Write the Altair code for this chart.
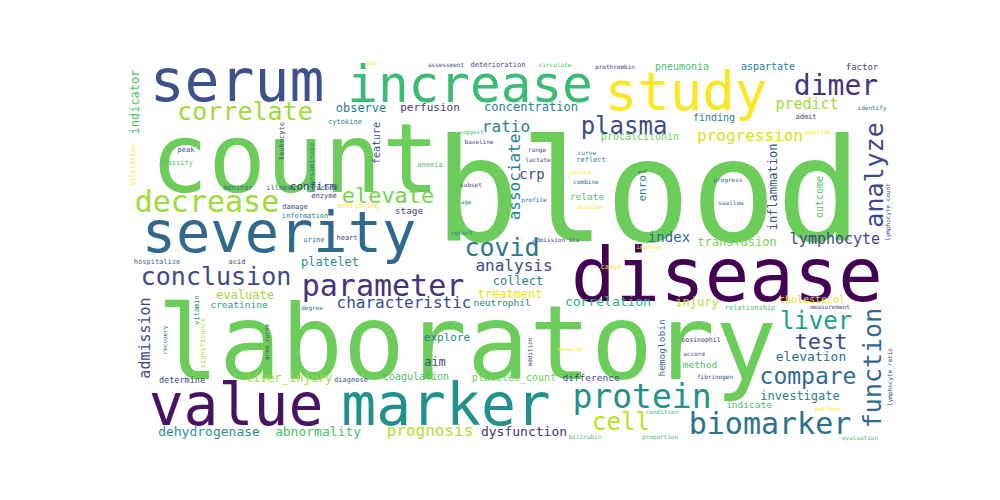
import pandas as pd
import altair as alt

# word cloud: word, centre position in page pixels, font size, rotation, colour
words = [
    "blood", "count", "laboratory", "disease", "severity", "value", "marker", "serum",
    "increase", "study", "protein", "biomarker", "decrease", "dimer", "parameter", "conclusion",
    "plasma", "correlate", "covid", "analyze", "function", "liver", "compare", "cell",
    "test", "elevate", "associate", "characteristic", "progression", "prognosis", "ratio", "analysis",
    "predict", "admission", "lymphocyte", "index", "crp", "correlation", "dysfunction", "elevation",
    "dehydrogenase", "abnormality", "observe", "platelet", "evaluate", "liver_injury", "investigate", "concentration",
    "inflammation", "indicator", "collect", "treatment", "transfusion", "injury", "aim", "perfusion",
    "enrol", "explore", "confirm", "finding", "outcome", "pneumonia", "aspartate", "factor",
    "coagulation", "cholesterol", "procalcitonin", "platelet_count", "difference", "hemoglobin", "method", "creatinine",
    "determine", "stage", "relate", "indicate", "neutrophil", "feature",
    "cytokine", "peak", "classify", "monitor", "illness", "record", "damage", "information",
    "enzyme", "monitoring", "urine", "heart", "leukocyte", "transaminase", "alteration", "anemia",
    "hospitalize", "acid", "degree", "vitamin", "recovery", "significance", "area_curve", "diagnose",
    "eosinophil", "accord", "fibrinogen", "develop", "addition", "cause", "bilirubin", "proportion",
    "condition", "relationship", "measurement", "perform", "evaluation", "identify", "lymphocyte_count", "lymphocyte_ratio",
    "progress", "swallow", "reflect", "curve", "range", "lactate", "subset", "profile",
    "age", "alanine", "combine", "course", "suggest", "baseline", "cohort", "peptide",
    "admit", "improve", "admission icu", "assessment", "deterioration", "circulate", "prothrombin", "san",
]
xs = [
    648, 295, 467, 727, 279, 236, 446, 237,
    470, 686, 642, 770, 207, 836, 383, 216,
    624, 245, 502, 875, 873, 816, 808, 621,
    821, 388, 515, 404, 750, 430, 506, 514,
    807, 145, 835, 669, 532, 608, 524, 811,
    209, 318, 361, 330, 245, 289, 800, 531,
    773, 135, 518, 510, 737, 697, 435, 430,
    643, 447, 313, 714, 820, 682, 768, 862,
    416, 812, 640, 514, 591, 662, 700, 239,
    182, 409, 587, 749, 502, 377,
    345, 186, 176, 238, 281, 325, 295, 305,
    324, 358, 314, 347, 282, 312, 133, 430,
    157, 237, 312, 197, 165, 203, 267, 351,
    701, 694, 715, 570, 530, 611, 585, 660,
    662, 750, 830, 828, 860, 872, 888, 890,
    728, 731, 591, 587, 537, 538, 471, 534,
    466, 590, 586, 580, 471, 479, 462, 818,
    806, 649, 556, 446, 498, 555, 615, 372,
]
ys = [
    198, 163, 348, 279, 235, 408, 408, 84,
    87, 94, 398, 425, 203, 87, 287, 277,
    127, 112, 248, 175, 368, 322, 377, 423,
    342, 196, 177, 303, 136, 431, 127, 266,
    104, 338, 239, 238, 175, 302, 432, 357,
    432, 432, 108, 262, 295, 378, 396, 107,
    187, 102, 281, 294, 242, 302, 362, 108,
    185, 338, 187, 118, 197, 67, 67, 67,
    377, 300, 137, 378, 378, 348, 365, 305,
    380, 211, 197, 405, 303, 143,
    122, 150, 163, 188, 188, 188, 207, 216,
    196, 206, 240, 238, 141, 168, 165, 165,
    262, 262, 308, 310, 340, 343, 342, 380,
    340, 354, 377, 349, 352, 267, 437, 437,
    412, 308, 307, 409, 438, 108, 212, 377,
    180, 203, 160, 153, 150, 160, 185, 200,
    202, 207, 182, 172, 132, 142, 233, 132,
    117, 247, 240, 65, 65, 65, 67, 63,
]
sizes = [
    142, 96, 103, 74, 57, 58, 58, 58,
    51, 54, 33, 30, 30, 28, 30, 25,
    24, 25, 25, 25, 25, 24, 23, 24,
    22, 22, 16, 16, 16, 16, 16, 16,
    15, 15, 15, 14, 14, 13, 13, 13,
    13, 13, 12, 12, 12, 12, 12, 12,
    12, 12, 12, 12, 12, 12, 12, 11,
    11, 11, 11, 10, 10, 10, 10, 9,
    10, 10, 10, 10, 9.5, 9.5, 9.5, 9.5,
    8.5, 9.5, 9.5, 9.5, 9.5, 10,
    7, 7, 7, 7, 7, 7, 7, 7,
    7, 7, 7, 7, 7, 7, 7, 7,
    7, 7, 6, 7, 6, 7, 6, 7,
    6.5, 6, 6, 6, 6, 7, 6, 6,
    6, 7, 6, 6, 6, 6, 6, 6,
    6, 6, 7, 6, 6, 6, 6, 6,
    6, 6, 6, 6, 6, 6, 6, 6,
    7, 6, 6, 6, 7, 6, 6, 6,
]
vertical = {
    "analyze", "function", "associate", "admission", "inflammation", "indicator", "enrol", "outcome",
    "hemoglobin", "feature", "leukocyte", "transaminase", "alteration", "vitamin", "recovery",
    "significance", "area_curve", "addition", "lymphocyte_count", "lymphocyte_ratio",
}
colors = [
    "#6ccd5a", "#6ccd5a", "#6ccd5a", "#440154", "#31688e", "#471365", "#21918c", "#3b528b",
    "#3bbb75", "#fde725", "#21918c", "#2c728e", "#a0da39", "#46337e", "#46337e", "#3e4989",
    "#3e4989", "#a0da39", "#2a788e", "#3e4989", "#31688e", "#1f9e89", "#31688e", "#bddf26",
    "#3e4989", "#7ad151", "#26828e", "#3e4989", "#d8e219", "#b5de2b", "#26828e", "#3e4989",
    "#a0da39", "#3e4989", "#3e4989", "#31688e", "#3e4989", "#29af7f", "#46337e", "#31688e",
    "#2a8f8c", "#4ac16d", "#26828e", "#2c8e8c", "#a0da39", "#a0da39", "#26828e", "#26828e",
    "#3e4989", "#4ac16d", "#26828e", "#e5e419", "#7ad151", "#b5de2b", "#3e4989", "#46337e",
    "#26828e", "#26828e", "#46337e", "#26828e", "#52c569", "#4ac16d", "#26828e", "#3e4989",
    "#4ac16d", "#d8e219", "#6ece58", "#6ece58", "#3e4989", "#31688e", "#4ac16d", "#2a9d8f",
    "#3e4989", "#3e4989", "#52c569", "#4ac16d", "#26828e", "#3b528b",
    "#26828e", "#3e4989", "#4ac16d", "#31688e", "#31688e", "#31688e", "#3e4989", "#26828e",
    "#46337e", "#fde725", "#31688e", "#3e4989", "#3e4989", "#26828e", "#fde725", "#4ac16d",
    "#31688e", "#3e4989", "#31688e", "#26828e", "#31688e", "#b5de2b", "#3e4989", "#3e4989",
    "#46337e", "#3e4989", "#3e4989", "#fde725", "#46337e", "#fde725", "#4ac16d", "#4ac16d",
    "#4ac16d", "#4ac16d", "#3e4989", "#fde725", "#4ac16d", "#31688e", "#3e4989", "#3e4989",
    "#31688e", "#31688e", "#26828e", "#26828e", "#3e4989", "#3e4989", "#3e4989", "#31688e",
    "#26828e", "#fde725", "#31688e", "#fde725", "#4ac16d", "#3e4989", "#26828e", "#fde725",
    "#3e4989", "#fde725", "#3e4989", "#3e4989", "#3e4989", "#4ac16d", "#46337e", "#fde725",
]

df = pd.DataFrame({
    "word": words, "x": xs, "y": ys, "size": sizes,
    "angle": [270 if w in vertical else 0 for w in words],
    "color": colors,
})

chart = (
    alt.Chart(df)
    .mark_text(font="DejaVu Sans Mono", align="center", baseline="middle")
    .encode(
        x=alt.X("x:Q", scale=alt.Scale(domain=[8, 992], range=[0, 984]), axis=None),
        y=alt.Y("y:Q", scale=alt.Scale(domain=[8, 492], range=[0, 484]), axis=None),
        text="word:N",
        size=alt.Size("size:Q", scale=None),
        angle=alt.Angle("angle:Q", scale=None),
        color=alt.Color("color:N", scale=None),
    )
    .properties(width=984, height=484, autosize=alt.AutoSizeParams(type="none"), padding=0)
    .configure_view(stroke=None)
)

chart.save("out.html", embed_options={"renderer": "svg", "actions": False})
